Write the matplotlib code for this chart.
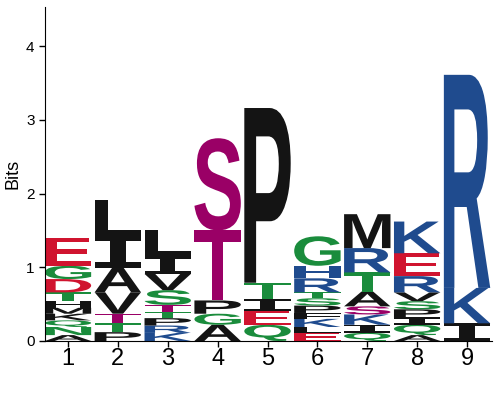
import matplotlib
matplotlib.use('Agg')
import matplotlib.pyplot as plt
from matplotlib.textpath import TextPath
from matplotlib.patches import PathPatch
from matplotlib.font_manager import FontProperties
from matplotlib.transforms import Affine2D

plt.rcParams['font.family'] = ['Liberation Sans', 'DejaVu Sans']

positions = [1, 2, 3, 4, 5, 6, 7, 8, 9]

# letters stacked bottom to top, heights in bits
col1_letters = ['A', 'N', 'Q', 'K', 'M', 'H', 'T', 'D', 'G', 'E']
col1_bits = [0.08, 0.11, 0.09, 0.09, 0.08, 0.09, 0.12, 0.18, 0.18, 0.38]
col1_shade = ['k', 'g', 'g', 'k', 'k', 'k', 'g', 'r', 'g', 'r']

col2_letters = ['P', 'T', 'T', 'V', 'A', 'I', 'L']
col2_bits = [0.12, 0.12, 0.13, 0.29, 0.33, 0.44, 0.48]
col2_shade = ['k', 'g', 'm', 'k', 'k', 'k', 'k']

col3_letters = ['K', 'R', 'P', 'T', 'T', 'S', 'V', 'I', 'L']
col3_bits = [0.11, 0.10, 0.10, 0.09, 0.09, 0.20, 0.22, 0.25, 0.34]
col3_shade = ['b', 'b', 'k', 'g', 'm', 'g', 'k', 'k', 'k']

col4_letters = ['A', 'G', 'P', 'T', 'S']
col4_bits = [0.22, 0.15, 0.18, 0.95, 1.25]
col4_shade = ['k', 'g', 'k', 'm', 'm']

col5_letters = ['Q', 'E', 'I', 'T', 'P']
col5_bits = [0.22, 0.19, 0.16, 0.22, 2.37]
col5_shade = ['g', 'r', 'k', 'g', 'k']

col6_letters = ['E', 'L', 'K', 'F', 'P', 'S', 'T', 'R', 'H', 'G']
col6_bits = [0.11, 0.08, 0.11, 0.08, 0.10, 0.10, 0.08, 0.19, 0.17, 0.40]
col6_shade = ['r', 'k', 'b', 'k', 'k', 'g', 'g', 'b', 'b', 'g']

col7_letters = ['Q', 'I', 'K', 'S', 'A', 'T', 'R', 'M']
col7_bits = [0.11, 0.11, 0.14, 0.11, 0.20, 0.26, 0.33, 0.46]
col7_shade = ['g', 'k', 'b', 'm', 'k', 'g', 'b', 'k']

col8_letters = ['A', 'Q', 'I', 'P', 'S', 'V', 'R', 'E', 'K']
col8_bits = [0.08, 0.14, 0.10, 0.11, 0.11, 0.12, 0.22, 0.31, 0.43]
col8_shade = ['k', 'g', 'k', 'k', 'g', 'k', 'b', 'r', 'b']

col9_letters = ['I', 'K', 'R']
col9_bits = [0.24, 0.48, 2.89]
col9_shade = ['k', 'b', 'b']

columns = [
    (col1_letters, col1_bits, col1_shade),
    (col2_letters, col2_bits, col2_shade),
    (col3_letters, col3_bits, col3_shade),
    (col4_letters, col4_bits, col4_shade),
    (col5_letters, col5_bits, col5_shade),
    (col6_letters, col6_bits, col6_shade),
    (col7_letters, col7_bits, col7_shade),
    (col8_letters, col8_bits, col8_shade),
    (col9_letters, col9_bits, col9_shade),
]

palette = {'k': '#141414', 'g': '#1a8c3c', 'r': '#d0142f',
           'b': '#1f4b8e', 'm': '#9a0066'}

sans_bold = FontProperties(family='Liberation Sans', weight='bold')
mono_bold = FontProperties(family='DejaVu Sans Mono', weight='bold')


def draw_letter(ax, letter, x, y0, width, height, color):
    fp = mono_bold if letter == 'I' else sans_bold
    path = TextPath((0, 0), letter, size=1, prop=fp)
    ext = path.get_extents()
    tr = (Affine2D().translate(-ext.x0, -ext.y0)
          .scale(width / ext.width, height / ext.height)
          .translate(x - width / 2, y0))
    ax.add_patch(PathPatch(tr.transform_path(path), facecolor=color,
                           edgecolor='none', lw=0))


fig = plt.figure(figsize=(5, 4), dpi=100)
ax = fig.add_axes([0.09, 0.1475, 0.894, 0.835])

for pos, (letters, bits, shade) in zip(positions, columns):
    base = 0.0
    for letter, h, c in zip(letters, bits, shade):
        draw_letter(ax, letter, pos, base, 0.93, h, palette[c])
        base += h

ax.set_xlim(0.54, 9.5)
ax.set_ylim(0, 4.53)
ax.set_xticks(positions)
ax.set_xticklabels([str(p) for p in positions], fontsize=17)
ax.set_yticks([0, 1, 2, 3, 4])
ax.tick_params(axis='y', labelsize=11, length=4, width=1)
ax.tick_params(axis='x', length=4, width=1, pad=1)
ax.set_ylabel('Bits', fontsize=13, labelpad=3)
ax.spines['top'].set_visible(False)
ax.spines['right'].set_visible(False)

fig.savefig('out.png', dpi=100)
